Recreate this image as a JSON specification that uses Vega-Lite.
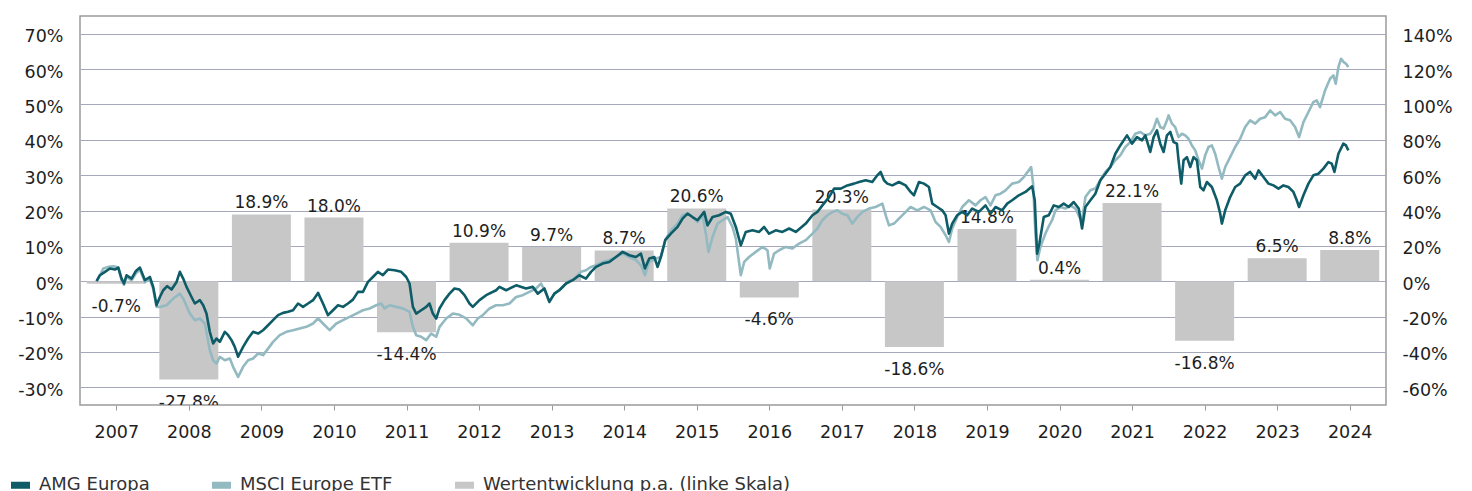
{
  "$schema": "https://vega.github.io/schema/vega-lite/v6.json",
  "width": 1306,
  "height": 389,
  "autosize": {"type": "none"},
  "padding": {"left": 80, "top": 16, "right": 86, "bottom": 86},
  "config": {
    "font": "DejaVu Sans",
    "view": {"stroke": "#9b9b9b", "strokeWidth": 1.5},
    "axis": {"labelFont": "DejaVu Sans", "labelFontSize": 17.5, "labelColor": "#1e1e1e", "domain": false, "title": null}
  },
  "datasets": {
    "bars": [
      {"year": 2007, "series": "Wertentwicklung p.a. (linke Skala)", "value": -0.7},
      {"year": 2008, "series": "Wertentwicklung p.a. (linke Skala)", "value": -27.8},
      {"year": 2009, "series": "Wertentwicklung p.a. (linke Skala)", "value": 18.9},
      {"year": 2010, "series": "Wertentwicklung p.a. (linke Skala)", "value": 18.0},
      {"year": 2011, "series": "Wertentwicklung p.a. (linke Skala)", "value": -14.4},
      {"year": 2012, "series": "Wertentwicklung p.a. (linke Skala)", "value": 10.9},
      {"year": 2013, "series": "Wertentwicklung p.a. (linke Skala)", "value": 9.7},
      {"year": 2014, "series": "Wertentwicklung p.a. (linke Skala)", "value": 8.7},
      {"year": 2015, "series": "Wertentwicklung p.a. (linke Skala)", "value": 20.6},
      {"year": 2016, "series": "Wertentwicklung p.a. (linke Skala)", "value": -4.6},
      {"year": 2017, "series": "Wertentwicklung p.a. (linke Skala)", "value": 20.3},
      {"year": 2018, "series": "Wertentwicklung p.a. (linke Skala)", "value": -18.6},
      {"year": 2019, "series": "Wertentwicklung p.a. (linke Skala)", "value": 14.8},
      {"year": 2020, "series": "Wertentwicklung p.a. (linke Skala)", "value": 0.4},
      {"year": 2021, "series": "Wertentwicklung p.a. (linke Skala)", "value": 22.1},
      {"year": 2022, "series": "Wertentwicklung p.a. (linke Skala)", "value": -16.8},
      {"year": 2023, "series": "Wertentwicklung p.a. (linke Skala)", "value": 6.5},
      {"year": 2024, "series": "Wertentwicklung p.a. (linke Skala)", "value": 8.8}
    ],
    "lines": [
      {"series":"MSCI Europe ETF","year":2007.229,"value":0},
      {"series":"MSCI Europe ETF","year":2007.275,"value":3.4},
      {"series":"MSCI Europe ETF","year":2007.321,"value":7.2},
      {"series":"MSCI Europe ETF","year":2007.39,"value":8.1},
      {"series":"MSCI Europe ETF","year":2007.459,"value":8.5},
      {"series":"MSCI Europe ETF","year":2007.528,"value":7.7},
      {"series":"MSCI Europe ETF","year":2007.573,"value":0.5},
      {"series":"MSCI Europe ETF","year":2007.606,"value":-2.0},
      {"series":"MSCI Europe ETF","year":2007.642,"value":2.5},
      {"series":"MSCI Europe ETF","year":2007.711,"value":0.5},
      {"series":"MSCI Europe ETF","year":2007.771,"value":4.5},
      {"series":"MSCI Europe ETF","year":2007.826,"value":6.5},
      {"series":"MSCI Europe ETF","year":2007.895,"value":-0.5},
      {"series":"MSCI Europe ETF","year":2007.963,"value":1.0},
      {"series":"MSCI Europe ETF","year":2008.009,"value":-4.5},
      {"series":"MSCI Europe ETF","year":2008.055,"value":-14.5},
      {"series":"MSCI Europe ETF","year":2008.101,"value":-14.5},
      {"series":"MSCI Europe ETF","year":2008.193,"value":-13.6},
      {"series":"MSCI Europe ETF","year":2008.285,"value":-9.8},
      {"series":"MSCI Europe ETF","year":2008.376,"value":-7.0},
      {"series":"MSCI Europe ETF","year":2008.422,"value":-9.8},
      {"series":"MSCI Europe ETF","year":2008.514,"value":-18.3},
      {"series":"MSCI Europe ETF","year":2008.583,"value":-22.1},
      {"series":"MSCI Europe ETF","year":2008.652,"value":-21.1},
      {"series":"MSCI Europe ETF","year":2008.721,"value":-23.9},
      {"series":"MSCI Europe ETF","year":2008.789,"value":-39.0},
      {"series":"MSCI Europe ETF","year":2008.835,"value":-44.7},
      {"series":"MSCI Europe ETF","year":2008.881,"value":-46.6},
      {"series":"MSCI Europe ETF","year":2008.927,"value":-42.8},
      {"series":"MSCI Europe ETF","year":2008.996,"value":-44.7},
      {"series":"MSCI Europe ETF","year":2009.065,"value":-43.7},
      {"series":"MSCI Europe ETF","year":2009.11,"value":-48.4},
      {"series":"MSCI Europe ETF","year":2009.179,"value":-54.1},
      {"series":"MSCI Europe ETF","year":2009.248,"value":-48.4},
      {"series":"MSCI Europe ETF","year":2009.317,"value":-44.7},
      {"series":"MSCI Europe ETF","year":2009.386,"value":-43.7},
      {"series":"MSCI Europe ETF","year":2009.455,"value":-40.9},
      {"series":"MSCI Europe ETF","year":2009.523,"value":-41.8},
      {"series":"MSCI Europe ETF","year":2009.592,"value":-38.1},
      {"series":"MSCI Europe ETF","year":2009.661,"value":-34.3},
      {"series":"MSCI Europe ETF","year":2009.753,"value":-30.5},
      {"series":"MSCI Europe ETF","year":2009.845,"value":-28.6},
      {"series":"MSCI Europe ETF","year":2009.936,"value":-27.7},
      {"series":"MSCI Europe ETF","year":2010.028,"value":-26.7},
      {"series":"MSCI Europe ETF","year":2010.12,"value":-25.8},
      {"series":"MSCI Europe ETF","year":2010.212,"value":-23.9},
      {"series":"MSCI Europe ETF","year":2010.281,"value":-21.1},
      {"series":"MSCI Europe ETF","year":2010.349,"value":-23.9},
      {"series":"MSCI Europe ETF","year":2010.441,"value":-27.7},
      {"series":"MSCI Europe ETF","year":2010.533,"value":-23.9},
      {"series":"MSCI Europe ETF","year":2010.625,"value":-22.0},
      {"series":"MSCI Europe ETF","year":2010.716,"value":-20.2},
      {"series":"MSCI Europe ETF","year":2010.808,"value":-18.3},
      {"series":"MSCI Europe ETF","year":2010.9,"value":-16.4},
      {"series":"MSCI Europe ETF","year":2010.991,"value":-15.4},
      {"series":"MSCI Europe ETF","year":2011.083,"value":-13.6},
      {"series":"MSCI Europe ETF","year":2011.152,"value":-12.6},
      {"series":"MSCI Europe ETF","year":2011.198,"value":-15.4},
      {"series":"MSCI Europe ETF","year":2011.267,"value":-13.6},
      {"series":"MSCI Europe ETF","year":2011.359,"value":-14.5},
      {"series":"MSCI Europe ETF","year":2011.45,"value":-15.4},
      {"series":"MSCI Europe ETF","year":2011.542,"value":-17.3},
      {"series":"MSCI Europe ETF","year":2011.588,"value":-25.8},
      {"series":"MSCI Europe ETF","year":2011.634,"value":-30.5},
      {"series":"MSCI Europe ETF","year":2011.703,"value":-31.4},
      {"series":"MSCI Europe ETF","year":2011.772,"value":-33.3},
      {"series":"MSCI Europe ETF","year":2011.84,"value":-29.6},
      {"series":"MSCI Europe ETF","year":2011.909,"value":-31.4},
      {"series":"MSCI Europe ETF","year":2011.955,"value":-25.8},
      {"series":"MSCI Europe ETF","year":2012.047,"value":-21.1},
      {"series":"MSCI Europe ETF","year":2012.139,"value":-18.3},
      {"series":"MSCI Europe ETF","year":2012.23,"value":-19.0},
      {"series":"MSCI Europe ETF","year":2012.322,"value":-21.0},
      {"series":"MSCI Europe ETF","year":2012.368,"value":-23.0},
      {"series":"MSCI Europe ETF","year":2012.414,"value":-24.9},
      {"series":"MSCI Europe ETF","year":2012.483,"value":-21.1},
      {"series":"MSCI Europe ETF","year":2012.552,"value":-19.2},
      {"series":"MSCI Europe ETF","year":2012.644,"value":-15.4},
      {"series":"MSCI Europe ETF","year":2012.735,"value":-13.6},
      {"series":"MSCI Europe ETF","year":2012.827,"value":-13.6},
      {"series":"MSCI Europe ETF","year":2012.919,"value":-12.6},
      {"series":"MSCI Europe ETF","year":2013.011,"value":-8.9},
      {"series":"MSCI Europe ETF","year":2013.102,"value":-7.9},
      {"series":"MSCI Europe ETF","year":2013.194,"value":-6.0},
      {"series":"MSCI Europe ETF","year":2013.286,"value":-4.1},
      {"series":"MSCI Europe ETF","year":2013.355,"value":-1.3},
      {"series":"MSCI Europe ETF","year":2013.424,"value":-7.0},
      {"series":"MSCI Europe ETF","year":2013.469,"value":-11.7},
      {"series":"MSCI Europe ETF","year":2013.538,"value":-7.0},
      {"series":"MSCI Europe ETF","year":2013.63,"value":-4.1},
      {"series":"MSCI Europe ETF","year":2013.722,"value":-0.4},
      {"series":"MSCI Europe ETF","year":2013.813,"value":1.5},
      {"series":"MSCI Europe ETF","year":2013.905,"value":5.3},
      {"series":"MSCI Europe ETF","year":2013.974,"value":6.2},
      {"series":"MSCI Europe ETF","year":2014.043,"value":8.1},
      {"series":"MSCI Europe ETF","year":2014.112,"value":9.0},
      {"series":"MSCI Europe ETF","year":2014.203,"value":10.9},
      {"series":"MSCI Europe ETF","year":2014.295,"value":11.9},
      {"series":"MSCI Europe ETF","year":2014.387,"value":13.7},
      {"series":"MSCI Europe ETF","year":2014.479,"value":15.6},
      {"series":"MSCI Europe ETF","year":2014.571,"value":13.7},
      {"series":"MSCI Europe ETF","year":2014.662,"value":11.9},
      {"series":"MSCI Europe ETF","year":2014.731,"value":9.0},
      {"series":"MSCI Europe ETF","year":2014.786,"value":3.4},
      {"series":"MSCI Europe ETF","year":2014.846,"value":10.9},
      {"series":"MSCI Europe ETF","year":2014.938,"value":12.8},
      {"series":"MSCI Europe ETF","year":2015.006,"value":13.7},
      {"series":"MSCI Europe ETF","year":2015.066,"value":23.2},
      {"series":"MSCI Europe ETF","year":2015.144,"value":28.8},
      {"series":"MSCI Europe ETF","year":2015.236,"value":32.6},
      {"series":"MSCI Europe ETF","year":2015.305,"value":37.3},
      {"series":"MSCI Europe ETF","year":2015.373,"value":38.2},
      {"series":"MSCI Europe ETF","year":2015.442,"value":36.3},
      {"series":"MSCI Europe ETF","year":2015.511,"value":33.5},
      {"series":"MSCI Europe ETF","year":2015.58,"value":37.3},
      {"series":"MSCI Europe ETF","year":2015.626,"value":26.9},
      {"series":"MSCI Europe ETF","year":2015.662,"value":16.6},
      {"series":"MSCI Europe ETF","year":2015.718,"value":25.0},
      {"series":"MSCI Europe ETF","year":2015.786,"value":32.6},
      {"series":"MSCI Europe ETF","year":2015.855,"value":34.5},
      {"series":"MSCI Europe ETF","year":2015.924,"value":36.3},
      {"series":"MSCI Europe ETF","year":2015.993,"value":30.7},
      {"series":"MSCI Europe ETF","year":2016.039,"value":24.1},
      {"series":"MSCI Europe ETF","year":2016.108,"value":3.4},
      {"series":"MSCI Europe ETF","year":2016.154,"value":10.9},
      {"series":"MSCI Europe ETF","year":2016.222,"value":13.7},
      {"series":"MSCI Europe ETF","year":2016.314,"value":16.6},
      {"series":"MSCI Europe ETF","year":2016.406,"value":19.4},
      {"series":"MSCI Europe ETF","year":2016.475,"value":17.5},
      {"series":"MSCI Europe ETF","year":2016.507,"value":7.2},
      {"series":"MSCI Europe ETF","year":2016.566,"value":15.6},
      {"series":"MSCI Europe ETF","year":2016.635,"value":17.5},
      {"series":"MSCI Europe ETF","year":2016.727,"value":19.4},
      {"series":"MSCI Europe ETF","year":2016.819,"value":18.5},
      {"series":"MSCI Europe ETF","year":2016.911,"value":21.3},
      {"series":"MSCI Europe ETF","year":2017.003,"value":23.2},
      {"series":"MSCI Europe ETF","year":2017.095,"value":26.9},
      {"series":"MSCI Europe ETF","year":2017.163,"value":29.8},
      {"series":"MSCI Europe ETF","year":2017.232,"value":34.5},
      {"series":"MSCI Europe ETF","year":2017.301,"value":37.3},
      {"series":"MSCI Europe ETF","year":2017.37,"value":39.2},
      {"series":"MSCI Europe ETF","year":2017.439,"value":40.1},
      {"series":"MSCI Europe ETF","year":2017.507,"value":38.2},
      {"series":"MSCI Europe ETF","year":2017.576,"value":37.3},
      {"series":"MSCI Europe ETF","year":2017.645,"value":32.6},
      {"series":"MSCI Europe ETF","year":2017.714,"value":36.3},
      {"series":"MSCI Europe ETF","year":2017.783,"value":39.2},
      {"series":"MSCI Europe ETF","year":2017.874,"value":41.1},
      {"series":"MSCI Europe ETF","year":2017.966,"value":42.0},
      {"series":"MSCI Europe ETF","year":2018.058,"value":43.9},
      {"series":"MSCI Europe ETF","year":2018.113,"value":36.3},
      {"series":"MSCI Europe ETF","year":2018.15,"value":31.6},
      {"series":"MSCI Europe ETF","year":2018.219,"value":32.6},
      {"series":"MSCI Europe ETF","year":2018.287,"value":35.4},
      {"series":"MSCI Europe ETF","year":2018.356,"value":38.2},
      {"series":"MSCI Europe ETF","year":2018.448,"value":42.0},
      {"series":"MSCI Europe ETF","year":2018.54,"value":40.1},
      {"series":"MSCI Europe ETF","year":2018.632,"value":42.0},
      {"series":"MSCI Europe ETF","year":2018.723,"value":40.1},
      {"series":"MSCI Europe ETF","year":2018.792,"value":33.5},
      {"series":"MSCI Europe ETF","year":2018.861,"value":30.7},
      {"series":"MSCI Europe ETF","year":2018.93,"value":26.0},
      {"series":"MSCI Europe ETF","year":2018.976,"value":22.2},
      {"series":"MSCI Europe ETF","year":2019.021,"value":29.8},
      {"series":"MSCI Europe ETF","year":2019.09,"value":36.3},
      {"series":"MSCI Europe ETF","year":2019.159,"value":42.0},
      {"series":"MSCI Europe ETF","year":2019.251,"value":45.8},
      {"series":"MSCI Europe ETF","year":2019.343,"value":42.9},
      {"series":"MSCI Europe ETF","year":2019.411,"value":45.8},
      {"series":"MSCI Europe ETF","year":2019.48,"value":47.6},
      {"series":"MSCI Europe ETF","year":2019.549,"value":42.9},
      {"series":"MSCI Europe ETF","year":2019.618,"value":48.6},
      {"series":"MSCI Europe ETF","year":2019.687,"value":49.5},
      {"series":"MSCI Europe ETF","year":2019.756,"value":51.4},
      {"series":"MSCI Europe ETF","year":2019.847,"value":55.2},
      {"series":"MSCI Europe ETF","year":2019.939,"value":56.1},
      {"series":"MSCI Europe ETF","year":2020.008,"value":58.9},
      {"series":"MSCI Europe ETF","year":2020.077,"value":62.7},
      {"series":"MSCI Europe ETF","year":2020.109,"value":64.6},
      {"series":"MSCI Europe ETF","year":2020.136,"value":55.2},
      {"series":"MSCI Europe ETF","year":2020.168,"value":26.9},
      {"series":"MSCI Europe ETF","year":2020.196,"value":11.9},
      {"series":"MSCI Europe ETF","year":2020.237,"value":19.4},
      {"series":"MSCI Europe ETF","year":2020.306,"value":27.0},
      {"series":"MSCI Europe ETF","year":2020.352,"value":31.0},
      {"series":"MSCI Europe ETF","year":2020.398,"value":34.5},
      {"series":"MSCI Europe ETF","year":2020.444,"value":40.1},
      {"series":"MSCI Europe ETF","year":2020.513,"value":42.0},
      {"series":"MSCI Europe ETF","year":2020.581,"value":41.1},
      {"series":"MSCI Europe ETF","year":2020.65,"value":42.9},
      {"series":"MSCI Europe ETF","year":2020.719,"value":41.1},
      {"series":"MSCI Europe ETF","year":2020.774,"value":36.3},
      {"series":"MSCI Europe ETF","year":2020.811,"value":34.5},
      {"series":"MSCI Europe ETF","year":2020.857,"value":47.6},
      {"series":"MSCI Europe ETF","year":2020.926,"value":51.4},
      {"series":"MSCI Europe ETF","year":2020.994,"value":52.4},
      {"series":"MSCI Europe ETF","year":2021.063,"value":57.1},
      {"series":"MSCI Europe ETF","year":2021.132,"value":61.8},
      {"series":"MSCI Europe ETF","year":2021.201,"value":64.6},
      {"series":"MSCI Europe ETF","year":2021.27,"value":68.4},
      {"series":"MSCI Europe ETF","year":2021.338,"value":71.2},
      {"series":"MSCI Europe ETF","year":2021.407,"value":75.9},
      {"series":"MSCI Europe ETF","year":2021.476,"value":78.7},
      {"series":"MSCI Europe ETF","year":2021.545,"value":83.4},
      {"series":"MSCI Europe ETF","year":2021.614,"value":84.4},
      {"series":"MSCI Europe ETF","year":2021.683,"value":82.5},
      {"series":"MSCI Europe ETF","year":2021.751,"value":83.4},
      {"series":"MSCI Europe ETF","year":2021.797,"value":86.3},
      {"series":"MSCI Europe ETF","year":2021.843,"value":91.9},
      {"series":"MSCI Europe ETF","year":2021.889,"value":87.2},
      {"series":"MSCI Europe ETF","year":2021.935,"value":86.3},
      {"series":"MSCI Europe ETF","year":2021.981,"value":91.0},
      {"series":"MSCI Europe ETF","year":2022.004,"value":93.8},
      {"series":"MSCI Europe ETF","year":2022.05,"value":89.1},
      {"series":"MSCI Europe ETF","year":2022.095,"value":87.2},
      {"series":"MSCI Europe ETF","year":2022.141,"value":81.5},
      {"series":"MSCI Europe ETF","year":2022.187,"value":83.4},
      {"series":"MSCI Europe ETF","year":2022.233,"value":82.5},
      {"series":"MSCI Europe ETF","year":2022.279,"value":80.6},
      {"series":"MSCI Europe ETF","year":2022.325,"value":76.8},
      {"series":"MSCI Europe ETF","year":2022.371,"value":74.0},
      {"series":"MSCI Europe ETF","year":2022.417,"value":68.4},
      {"series":"MSCI Europe ETF","year":2022.463,"value":63.7},
      {"series":"MSCI Europe ETF","year":2022.508,"value":71.2},
      {"series":"MSCI Europe ETF","year":2022.554,"value":75.9},
      {"series":"MSCI Europe ETF","year":2022.6,"value":76.8},
      {"series":"MSCI Europe ETF","year":2022.646,"value":72.1},
      {"series":"MSCI Europe ETF","year":2022.692,"value":64.6},
      {"series":"MSCI Europe ETF","year":2022.738,"value":58.0},
      {"series":"MSCI Europe ETF","year":2022.784,"value":64.6},
      {"series":"MSCI Europe ETF","year":2022.852,"value":70.2},
      {"series":"MSCI Europe ETF","year":2022.921,"value":75.9},
      {"series":"MSCI Europe ETF","year":2022.99,"value":80.6},
      {"series":"MSCI Europe ETF","year":2023.059,"value":87.2},
      {"series":"MSCI Europe ETF","year":2023.128,"value":91.0},
      {"series":"MSCI Europe ETF","year":2023.197,"value":89.1},
      {"series":"MSCI Europe ETF","year":2023.265,"value":91.9},
      {"series":"MSCI Europe ETF","year":2023.334,"value":92.8},
      {"series":"MSCI Europe ETF","year":2023.403,"value":96.6},
      {"series":"MSCI Europe ETF","year":2023.472,"value":93.8},
      {"series":"MSCI Europe ETF","year":2023.541,"value":95.7},
      {"series":"MSCI Europe ETF","year":2023.609,"value":91.9},
      {"series":"MSCI Europe ETF","year":2023.678,"value":91.0},
      {"series":"MSCI Europe ETF","year":2023.747,"value":87.2},
      {"series":"MSCI Europe ETF","year":2023.802,"value":81.5},
      {"series":"MSCI Europe ETF","year":2023.862,"value":90.0},
      {"series":"MSCI Europe ETF","year":2023.931,"value":95.7},
      {"series":"MSCI Europe ETF","year":2023.999,"value":101.3},
      {"series":"MSCI Europe ETF","year":2024.045,"value":102.3},
      {"series":"MSCI Europe ETF","year":2024.091,"value":98.5},
      {"series":"MSCI Europe ETF","year":2024.16,"value":107.9},
      {"series":"MSCI Europe ETF","year":2024.229,"value":114.5},
      {"series":"MSCI Europe ETF","year":2024.275,"value":116.4},
      {"series":"MSCI Europe ETF","year":2024.307,"value":111.7},
      {"series":"MSCI Europe ETF","year":2024.344,"value":121.1},
      {"series":"MSCI Europe ETF","year":2024.38,"value":125.8},
      {"series":"MSCI Europe ETF","year":2024.417,"value":123.9},
      {"series":"MSCI Europe ETF","year":2024.449,"value":123.0},
      {"series":"MSCI Europe ETF","year":2024.481,"value":121.1},
      {"series":"AMG Europa","year":2007.229,"value":0},
      {"series":"AMG Europa","year":2007.275,"value":3.4},
      {"series":"AMG Europa","year":2007.344,"value":5.3},
      {"series":"AMG Europa","year":2007.413,"value":7.2},
      {"series":"AMG Europa","year":2007.482,"value":6.6},
      {"series":"AMG Europa","year":2007.528,"value":7.7},
      {"series":"AMG Europa","year":2007.573,"value":1.5},
      {"series":"AMG Europa","year":2007.606,"value":-1.3},
      {"series":"AMG Europa","year":2007.642,"value":3.4},
      {"series":"AMG Europa","year":2007.711,"value":1.5},
      {"series":"AMG Europa","year":2007.771,"value":5.8},
      {"series":"AMG Europa","year":2007.826,"value":7.7},
      {"series":"AMG Europa","year":2007.895,"value":0.6},
      {"series":"AMG Europa","year":2007.963,"value":2.4},
      {"series":"AMG Europa","year":2008.009,"value":-3.2},
      {"series":"AMG Europa","year":2008.055,"value":-13.6},
      {"series":"AMG Europa","year":2008.101,"value":-8.9},
      {"series":"AMG Europa","year":2008.147,"value":-5.1},
      {"series":"AMG Europa","year":2008.202,"value":-2.8},
      {"series":"AMG Europa","year":2008.262,"value":-4.7},
      {"series":"AMG Europa","year":2008.331,"value":-0.4},
      {"series":"AMG Europa","year":2008.376,"value":5.3},
      {"series":"AMG Europa","year":2008.422,"value":1.5},
      {"series":"AMG Europa","year":2008.468,"value":-3.2},
      {"series":"AMG Europa","year":2008.537,"value":-8.9},
      {"series":"AMG Europa","year":2008.583,"value":-12.6},
      {"series":"AMG Europa","year":2008.652,"value":-10.7},
      {"series":"AMG Europa","year":2008.698,"value":-13.6},
      {"series":"AMG Europa","year":2008.743,"value":-18.3},
      {"series":"AMG Europa","year":2008.789,"value":-28.6},
      {"series":"AMG Europa","year":2008.835,"value":-35.2},
      {"series":"AMG Europa","year":2008.881,"value":-32.4},
      {"series":"AMG Europa","year":2008.927,"value":-34.3},
      {"series":"AMG Europa","year":2008.996,"value":-28.6},
      {"series":"AMG Europa","year":2009.042,"value":-30.5},
      {"series":"AMG Europa","year":2009.088,"value":-33.3},
      {"series":"AMG Europa","year":2009.133,"value":-37.1},
      {"series":"AMG Europa","year":2009.179,"value":-42.7},
      {"series":"AMG Europa","year":2009.248,"value":-37.1},
      {"series":"AMG Europa","year":2009.317,"value":-32.4},
      {"series":"AMG Europa","year":2009.386,"value":-28.6},
      {"series":"AMG Europa","year":2009.455,"value":-29.6},
      {"series":"AMG Europa","year":2009.523,"value":-27.7},
      {"series":"AMG Europa","year":2009.592,"value":-24.9},
      {"series":"AMG Europa","year":2009.661,"value":-22.0},
      {"series":"AMG Europa","year":2009.73,"value":-19.2},
      {"series":"AMG Europa","year":2009.799,"value":-17.9},
      {"series":"AMG Europa","year":2009.868,"value":-17.3},
      {"series":"AMG Europa","year":2009.936,"value":-16.4},
      {"series":"AMG Europa","year":2010.005,"value":-12.6},
      {"series":"AMG Europa","year":2010.074,"value":-14.5},
      {"series":"AMG Europa","year":2010.143,"value":-12.6},
      {"series":"AMG Europa","year":2010.212,"value":-10.7},
      {"series":"AMG Europa","year":2010.281,"value":-6.6},
      {"series":"AMG Europa","year":2010.349,"value":-12.6},
      {"series":"AMG Europa","year":2010.418,"value":-19.2},
      {"series":"AMG Europa","year":2010.487,"value":-16.4},
      {"series":"AMG Europa","year":2010.556,"value":-13.6},
      {"series":"AMG Europa","year":2010.625,"value":-14.5},
      {"series":"AMG Europa","year":2010.693,"value":-12.6},
      {"series":"AMG Europa","year":2010.762,"value":-10.4},
      {"series":"AMG Europa","year":2010.831,"value":-6.0},
      {"series":"AMG Europa","year":2010.9,"value":-6.0},
      {"series":"AMG Europa","year":2010.969,"value":-0.4},
      {"series":"AMG Europa","year":2011.037,"value":2.4},
      {"series":"AMG Europa","year":2011.106,"value":5.3},
      {"series":"AMG Europa","year":2011.175,"value":3.4},
      {"series":"AMG Europa","year":2011.244,"value":6.6},
      {"series":"AMG Europa","year":2011.336,"value":6.2},
      {"series":"AMG Europa","year":2011.427,"value":5.3},
      {"series":"AMG Europa","year":2011.496,"value":2.4},
      {"series":"AMG Europa","year":2011.542,"value":-1.3},
      {"series":"AMG Europa","year":2011.588,"value":-14.5},
      {"series":"AMG Europa","year":2011.634,"value":-18.3},
      {"series":"AMG Europa","year":2011.703,"value":-16.4},
      {"series":"AMG Europa","year":2011.772,"value":-14.5},
      {"series":"AMG Europa","year":2011.817,"value":-12.6},
      {"series":"AMG Europa","year":2011.863,"value":-18.3},
      {"series":"AMG Europa","year":2011.909,"value":-21.1},
      {"series":"AMG Europa","year":2011.955,"value":-15.4},
      {"series":"AMG Europa","year":2012.024,"value":-10.7},
      {"series":"AMG Europa","year":2012.093,"value":-7.0},
      {"series":"AMG Europa","year":2012.161,"value":-4.1},
      {"series":"AMG Europa","year":2012.23,"value":-4.7},
      {"series":"AMG Europa","year":2012.299,"value":-7.9},
      {"series":"AMG Europa","year":2012.368,"value":-12.6},
      {"series":"AMG Europa","year":2012.414,"value":-14.5},
      {"series":"AMG Europa","year":2012.506,"value":-10.7},
      {"series":"AMG Europa","year":2012.598,"value":-7.9},
      {"series":"AMG Europa","year":2012.735,"value":-5.1},
      {"series":"AMG Europa","year":2012.781,"value":-3.2},
      {"series":"AMG Europa","year":2012.873,"value":-5.1},
      {"series":"AMG Europa","year":2013.011,"value":-2.3},
      {"series":"AMG Europa","year":2013.148,"value":-4.1},
      {"series":"AMG Europa","year":2013.24,"value":-3.2},
      {"series":"AMG Europa","year":2013.309,"value":-7.0},
      {"series":"AMG Europa","year":2013.401,"value":-4.1},
      {"series":"AMG Europa","year":2013.469,"value":-11.7},
      {"series":"AMG Europa","year":2013.538,"value":-7.0},
      {"series":"AMG Europa","year":2013.607,"value":-5.1},
      {"series":"AMG Europa","year":2013.699,"value":-1.3},
      {"series":"AMG Europa","year":2013.791,"value":0.6},
      {"series":"AMG Europa","year":2013.882,"value":3.4},
      {"series":"AMG Europa","year":2013.974,"value":1.5},
      {"series":"AMG Europa","year":2014.043,"value":5.3},
      {"series":"AMG Europa","year":2014.112,"value":8.1},
      {"series":"AMG Europa","year":2014.203,"value":10.0},
      {"series":"AMG Europa","year":2014.295,"value":10.9},
      {"series":"AMG Europa","year":2014.387,"value":13.7},
      {"series":"AMG Europa","year":2014.479,"value":16.6},
      {"series":"AMG Europa","year":2014.571,"value":14.7},
      {"series":"AMG Europa","year":2014.662,"value":13.7},
      {"series":"AMG Europa","year":2014.731,"value":15.6},
      {"series":"AMG Europa","year":2014.786,"value":7.2},
      {"series":"AMG Europa","year":2014.846,"value":12.8},
      {"series":"AMG Europa","year":2014.915,"value":13.7},
      {"series":"AMG Europa","year":2014.96,"value":8.1},
      {"series":"AMG Europa","year":2015.006,"value":13.7},
      {"series":"AMG Europa","year":2015.066,"value":23.2},
      {"series":"AMG Europa","year":2015.144,"value":26.9},
      {"series":"AMG Europa","year":2015.236,"value":30.7},
      {"series":"AMG Europa","year":2015.305,"value":35.4},
      {"series":"AMG Europa","year":2015.373,"value":38.2},
      {"series":"AMG Europa","year":2015.442,"value":36.3},
      {"series":"AMG Europa","year":2015.511,"value":34.5},
      {"series":"AMG Europa","year":2015.603,"value":39.2},
      {"series":"AMG Europa","year":2015.649,"value":31.6},
      {"series":"AMG Europa","year":2015.718,"value":36.3},
      {"series":"AMG Europa","year":2015.809,"value":37.3},
      {"series":"AMG Europa","year":2015.901,"value":39.2},
      {"series":"AMG Europa","year":2015.97,"value":38.2},
      {"series":"AMG Europa","year":2016.039,"value":30.7},
      {"series":"AMG Europa","year":2016.108,"value":20.3},
      {"series":"AMG Europa","year":2016.176,"value":27.9},
      {"series":"AMG Europa","year":2016.268,"value":28.8},
      {"series":"AMG Europa","year":2016.36,"value":27.9},
      {"series":"AMG Europa","year":2016.429,"value":30.7},
      {"series":"AMG Europa","year":2016.497,"value":26.9},
      {"series":"AMG Europa","year":2016.589,"value":28.8},
      {"series":"AMG Europa","year":2016.681,"value":27.9},
      {"series":"AMG Europa","year":2016.773,"value":29.8},
      {"series":"AMG Europa","year":2016.865,"value":27.9},
      {"series":"AMG Europa","year":2017.003,"value":32.6},
      {"series":"AMG Europa","year":2017.095,"value":37.3},
      {"series":"AMG Europa","year":2017.163,"value":39.2},
      {"series":"AMG Europa","year":2017.232,"value":42.9},
      {"series":"AMG Europa","year":2017.324,"value":47.6},
      {"series":"AMG Europa","year":2017.393,"value":52.4},
      {"series":"AMG Europa","year":2017.485,"value":52.4},
      {"series":"AMG Europa","year":2017.576,"value":54.2},
      {"series":"AMG Europa","year":2017.668,"value":55.2},
      {"series":"AMG Europa","year":2017.737,"value":56.1},
      {"series":"AMG Europa","year":2017.829,"value":57.1},
      {"series":"AMG Europa","year":2017.92,"value":56.1},
      {"series":"AMG Europa","year":2017.989,"value":59.9},
      {"series":"AMG Europa","year":2018.035,"value":61.8},
      {"series":"AMG Europa","year":2018.081,"value":57.1},
      {"series":"AMG Europa","year":2018.127,"value":55.2},
      {"series":"AMG Europa","year":2018.196,"value":54.2},
      {"series":"AMG Europa","year":2018.287,"value":56.1},
      {"series":"AMG Europa","year":2018.379,"value":54.2},
      {"series":"AMG Europa","year":2018.448,"value":50.5},
      {"series":"AMG Europa","year":2018.494,"value":48.6},
      {"series":"AMG Europa","year":2018.563,"value":56.1},
      {"series":"AMG Europa","year":2018.632,"value":55.2},
      {"series":"AMG Europa","year":2018.7,"value":53.3},
      {"series":"AMG Europa","year":2018.746,"value":43.9},
      {"series":"AMG Europa","year":2018.815,"value":42.0},
      {"series":"AMG Europa","year":2018.884,"value":40.1},
      {"series":"AMG Europa","year":2018.93,"value":37.3},
      {"series":"AMG Europa","year":2018.976,"value":26.9},
      {"series":"AMG Europa","year":2019.021,"value":32.6},
      {"series":"AMG Europa","year":2019.09,"value":37.3},
      {"series":"AMG Europa","year":2019.159,"value":39.2},
      {"series":"AMG Europa","year":2019.228,"value":37.3},
      {"series":"AMG Europa","year":2019.297,"value":41.1},
      {"series":"AMG Europa","year":2019.389,"value":39.2},
      {"series":"AMG Europa","year":2019.48,"value":42.9},
      {"series":"AMG Europa","year":2019.549,"value":38.2},
      {"series":"AMG Europa","year":2019.618,"value":42.0},
      {"series":"AMG Europa","year":2019.71,"value":40.1},
      {"series":"AMG Europa","year":2019.779,"value":43.9},
      {"series":"AMG Europa","year":2019.847,"value":45.8},
      {"series":"AMG Europa","year":2019.939,"value":48.6},
      {"series":"AMG Europa","year":2020.031,"value":50.5},
      {"series":"AMG Europa","year":2020.123,"value":53.7},
      {"series":"AMG Europa","year":2020.159,"value":45.8},
      {"series":"AMG Europa","year":2020.191,"value":15.6},
      {"series":"AMG Europa","year":2020.223,"value":21.3},
      {"series":"AMG Europa","year":2020.283,"value":36.3},
      {"series":"AMG Europa","year":2020.352,"value":37.3},
      {"series":"AMG Europa","year":2020.421,"value":42.9},
      {"series":"AMG Europa","year":2020.49,"value":42.0},
      {"series":"AMG Europa","year":2020.558,"value":43.9},
      {"series":"AMG Europa","year":2020.627,"value":42.0},
      {"series":"AMG Europa","year":2020.696,"value":44.8},
      {"series":"AMG Europa","year":2020.765,"value":41.1},
      {"series":"AMG Europa","year":2020.811,"value":29.8},
      {"series":"AMG Europa","year":2020.857,"value":42.0},
      {"series":"AMG Europa","year":2020.926,"value":45.8},
      {"series":"AMG Europa","year":2020.994,"value":49.5},
      {"series":"AMG Europa","year":2021.063,"value":57.1},
      {"series":"AMG Europa","year":2021.132,"value":60.8},
      {"series":"AMG Europa","year":2021.201,"value":64.6},
      {"series":"AMG Europa","year":2021.27,"value":72.1},
      {"series":"AMG Europa","year":2021.338,"value":76.8},
      {"series":"AMG Europa","year":2021.43,"value":82.5},
      {"series":"AMG Europa","year":2021.499,"value":77.8},
      {"series":"AMG Europa","year":2021.568,"value":81.5},
      {"series":"AMG Europa","year":2021.637,"value":79.7},
      {"series":"AMG Europa","year":2021.683,"value":82.5},
      {"series":"AMG Europa","year":2021.751,"value":73.1},
      {"series":"AMG Europa","year":2021.797,"value":81.5},
      {"series":"AMG Europa","year":2021.843,"value":85.3},
      {"series":"AMG Europa","year":2021.889,"value":77.8},
      {"series":"AMG Europa","year":2021.935,"value":73.1},
      {"series":"AMG Europa","year":2021.981,"value":82.5},
      {"series":"AMG Europa","year":2022.027,"value":84.4},
      {"series":"AMG Europa","year":2022.073,"value":78.7},
      {"series":"AMG Europa","year":2022.118,"value":77.8},
      {"series":"AMG Europa","year":2022.141,"value":68.4},
      {"series":"AMG Europa","year":2022.178,"value":55.2},
      {"series":"AMG Europa","year":2022.21,"value":68.4},
      {"series":"AMG Europa","year":2022.256,"value":70.2},
      {"series":"AMG Europa","year":2022.302,"value":64.6},
      {"series":"AMG Europa","year":2022.348,"value":70.2},
      {"series":"AMG Europa","year":2022.394,"value":68.4},
      {"series":"AMG Europa","year":2022.44,"value":53.3},
      {"series":"AMG Europa","year":2022.485,"value":51.4},
      {"series":"AMG Europa","year":2022.531,"value":56.1},
      {"series":"AMG Europa","year":2022.6,"value":53.3},
      {"series":"AMG Europa","year":2022.669,"value":45.8},
      {"series":"AMG Europa","year":2022.715,"value":38.2},
      {"series":"AMG Europa","year":2022.738,"value":32.6},
      {"series":"AMG Europa","year":2022.784,"value":40.1},
      {"series":"AMG Europa","year":2022.852,"value":47.6},
      {"series":"AMG Europa","year":2022.921,"value":53.3},
      {"series":"AMG Europa","year":2022.99,"value":55.2},
      {"series":"AMG Europa","year":2023.059,"value":59.9},
      {"series":"AMG Europa","year":2023.128,"value":61.8},
      {"series":"AMG Europa","year":2023.197,"value":58.0},
      {"series":"AMG Europa","year":2023.243,"value":62.7},
      {"series":"AMG Europa","year":2023.311,"value":58.9},
      {"series":"AMG Europa","year":2023.38,"value":55.2},
      {"series":"AMG Europa","year":2023.449,"value":54.2},
      {"series":"AMG Europa","year":2023.518,"value":52.4},
      {"series":"AMG Europa","year":2023.586,"value":54.2},
      {"series":"AMG Europa","year":2023.655,"value":53.3},
      {"series":"AMG Europa","year":2023.724,"value":50.5},
      {"series":"AMG Europa","year":2023.77,"value":45.8},
      {"series":"AMG Europa","year":2023.802,"value":42.0},
      {"series":"AMG Europa","year":2023.862,"value":48.6},
      {"series":"AMG Europa","year":2023.931,"value":55.2},
      {"series":"AMG Europa","year":2023.999,"value":59.9},
      {"series":"AMG Europa","year":2024.068,"value":60.8},
      {"series":"AMG Europa","year":2024.137,"value":63.7},
      {"series":"AMG Europa","year":2024.206,"value":67.4},
      {"series":"AMG Europa","year":2024.252,"value":66.5},
      {"series":"AMG Europa","year":2024.289,"value":61.8},
      {"series":"AMG Europa","year":2024.344,"value":72.1},
      {"series":"AMG Europa","year":2024.412,"value":77.8},
      {"series":"AMG Europa","year":2024.449,"value":76.8},
      {"series":"AMG Europa","year":2024.481,"value":74.0}
    ]
  },
  "encoding": {
    "x": {
      "field": "year",
      "type": "quantitative",
      "scale": {"domain": [2007, 2025], "nice": false, "zero": false, "padding": 0},
      "axis": {
        "values": [2007, 2008, 2009, 2010, 2011, 2012, 2013, 2014, 2015, 2016, 2017, 2018, 2019, 2020, 2021, 2022, 2023, 2024],
        "tickOffset": 36.28,
        "labelExpr": "'' + datum.value",
        "grid": false,
        "ticks": true,
        "tickSize": 5,
        "tickColor": "#9b9b9b",
        "tickWidth": 1,
        "labelPadding": 13,
        "labelFlush": false,
        "labelOverlap": false
      }
    },
    "color": {
      "field": "series",
      "type": "nominal",
      "scale": {
        "domain": ["AMG Europa", "MSCI Europe ETF", "Wertentwicklung p.a. (linke Skala)"],
        "range": ["#0e5c67", "#93b9c1", "#c7c7c7"]
      },
      "legend": {
        "orient": "none",
        "legendX": -69,
        "legendY": 459.5,
        "direction": "horizontal",
        "title": null,
        "padding": 0,
        "symbolType": "M-1,-0.37H1V0.37H-1Z",
        "symbolSize": 361,
        "symbolStrokeWidth": 0,
        "labelFont": "DejaVu Sans",
        "labelFontSize": 18,
        "labelColor": "#333333",
        "labelOffset": 9,
        "labelLimit": 0,
        "columnPadding": 62,
        "encode": {
          "symbols": {"update": {"fill": {"scale": "color", "field": "value"}, "fillOpacity": {"value": 1}, "strokeWidth": {"value": 0}}}
        }
      }
    }
  },
  "layer": [
    {
      "data": {"name": "bars"},
      "encoding": {
        "y": {
          "field": "value",
          "type": "quantitative",
          "scale": {"domain": [-35, 75], "nice": false},
          "axis": {
            "orient": "left",
            "values": [-30, -20, -10, 0, 10, 20, 30, 40, 50, 60, 70],
            "labelExpr": "datum.value + '%'",
            "grid": true,
            "gridColor": "#a4a8ba",
            "gridWidth": 1,
            "ticks": false,
            "labelPadding": 17,
            "labelOffset": 3
          }
        }
      },
      "layer": [
        {"mark": {"type": "bar", "orient": "vertical", "size": 59, "xOffset": 36.28}},
        {
          "transform": [{"filter": "datum.value >= 0"}],
          "mark": {"type": "text", "xOffset": 36.28, "dy": -6, "baseline": "alphabetic", "align": "center", "font": "DejaVu Sans", "fontSize": 17, "color": "#1e1e1e", "clip": true,
                   "text": {"expr": "replace(format(datum.value, '.1f'), '\u2212', '-') + '%'"}},
          "encoding": {"color": {"value": "#1e1e1e"}}
        },
        {
          "transform": [{"filter": "datum.value < 0"}],
          "mark": {"type": "text", "xOffset": 36.28, "dy": 28, "baseline": "alphabetic", "align": "center", "font": "DejaVu Sans", "fontSize": 17, "color": "#1e1e1e", "clip": true,
                   "text": {"expr": "replace(format(datum.value, '.1f'), '\u2212', '-') + '%'"}},
          "encoding": {"color": {"value": "#1e1e1e"}}
        }
      ]
    },
    {
      "data": {"name": "lines"},
      "mark": {"type": "line", "strokeWidth": 2.6, "strokeJoin": "round"},
      "encoding": {
        "y": {
          "field": "value",
          "type": "quantitative",
          "scale": {"domain": [-70, 150], "nice": false},
          "axis": {
            "orient": "right",
            "values": [-60, -40, -20, 0, 20, 40, 60, 80, 100, 120, 140],
            "labelExpr": "datum.value + '%'",
            "grid": false,
            "ticks": false,
            "labelPadding": 16,
            "labelOffset": 3
          }
        }
      }
    }
  ],
  "resolve": {"scale": {"y": "independent"}}
}
